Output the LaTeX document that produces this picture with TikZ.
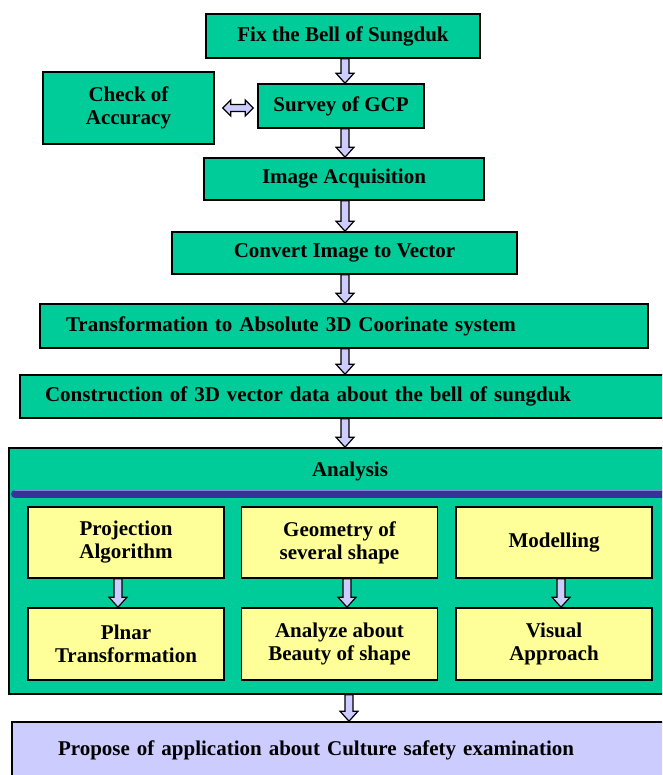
\documentclass[tikz,border=0pt]{standalone}
\usepackage{fontspec}
\setmainfont{Liberation Serif}
\usetikzlibrary{calc}
\definecolor{boxgreen}{HTML}{00CC99}
\definecolor{boxyellow}{HTML}{FFFF99}
\definecolor{lav}{HTML}{CCCCFF}
\definecolor{barblue}{HTML}{333399}
\definecolor{barlight}{HTML}{8484D8}
\tikzset{
  txt/.style={font=\fontsize{21}{23}\selectfont\bfseries},
  gbox/.style={txt, draw=black, line width=1.6pt, fill=boxgreen, inner sep=0pt, align=center},
  ybox/.style={txt, draw=black, line width=1.6pt, fill=boxyellow, inner sep=0pt, align=center, minimum width=196pt},
  blockarrow/.style={draw=black, line width=1.2pt, fill=lav, line join=miter},
}
\newcommand\vblk[3]{\draw[blockarrow] let \p1=(#2 -| #1), \p2=(#3 -| #1) in
  (\x1-4pt,\y1) -- (\x1-4pt,\y2+10pt) -- (\x1-9pt,\y2+10pt) -- (\x2,\y2) --
  (\x1+9pt,\y2+10pt) -- (\x1+4pt,\y2+10pt) -- (\x1+4pt,\y1) -- cycle;}
\newcommand\hdbl[2]{\draw[blockarrow] let \p1=(#1), \p2=(#2) in
  (\x1,\y1) -- (\x1+8pt,\y1+8pt) -- (\x1+8pt,\y1+3.5pt) -- (\x2-8pt,\y1+3.5pt) --
  (\x2-8pt,\y1+8pt) -- (\x2,\y1) -- (\x2-8pt,\y1-8pt) -- (\x2-8pt,\y1-3.5pt) --
  (\x1+8pt,\y1-3.5pt) -- (\x1+8pt,\y1-8pt) -- cycle;}
\begin{document}
\begin{tikzpicture}[x=1pt,y=-1pt]
\useasboundingbox (0,0) rectangle (662,775);
\clip (0,0) rectangle (662,775);
\fill[white] (0,0) rectangle (662,775);
% main column
\node[gbox, minimum width=274pt, minimum height=44pt] (fix) at (343,36) {Fix the Bell of Sungduk};
\node[gbox, minimum width=166pt, minimum height=44pt] (gcp) at (341,106) {Survey of GCP};
\node[gbox, minimum width=171pt, minimum height=72pt] (acc) at (128.5,108) {Check of\\Accuracy};
\node[gbox, minimum width=280pt, minimum height=42pt] (img) at (344,179) {Image Acquisition};
\node[gbox, minimum width=345pt, minimum height=42pt] (conv) at (344.5,253) {Convert Image to Vector};
\node[gbox, align=left, text width=556pt, inner xsep=26pt, minimum height=44pt] (trans) at (344,326) {Transformation to Absolute 3D Coorinate system};
\node[gbox, align=left, text width=600pt, inner xsep=25pt, minimum height=43pt] (cons) at (345,396.5) {Construction of 3D vector data about the bell of sungduk};
% analysis frame
\node[gbox, minimum width=661pt, minimum height=246pt] (ana) at (339.5,571) {};
\node[txt] (anat) at (350,471) {Analysis};
\draw[barblue, line width=8pt, line cap=round] (15,494) -- (680,494);
\draw[barlight, line width=1.6pt, line cap=round] (15,490.5) -- (680,490.5);
% yellow boxes
\node[ybox, minimum height=71pt] (p1) at (126,542.5) {Projection\\Algorithm};
\node[ybox, minimum height=71pt] (p2) at (339.5,542.5) {Geometry of\\several shape};
\node[ybox, minimum height=71pt] (p3) at (554,542.5) {Modelling};
\node[ybox, minimum height=72pt] (q1) at (126,644) {Plnar\\Transformation};
\node[ybox, minimum height=72pt] (q2) at (339.5,644) {Analyze about\\Beauty of shape};
\node[ybox, minimum height=72pt] (q3) at (554,644) {Visual\\Approach};
% bottom
\node[txt, draw=black, line width=1.6pt, fill=lav, align=left, text width=566pt, inner xsep=46pt, inner ysep=0pt, minimum height=56pt] (prop) at (341,750) {Propose of application about Culture safety examination};
% arrow axes
\coordinate (ax) at (345,0);
\coordinate (bx) at (349,0);
\coordinate (c1) at (118,0);
\coordinate (c2) at (347,0);
\coordinate (c3) at (561,0);
\coordinate (dl) at ($(acc.east)+(8pt,0)$);
\coordinate (dr) at ($(acc.east -| gcp.west)+(-4pt,0)$);
% arrows
\vblk{ax}{fix.south}{gcp.north}
\vblk{ax}{gcp.south}{img.north}
\vblk{ax}{img.south}{conv.north}
\vblk{ax}{conv.south}{trans.north}
\vblk{ax}{trans.south}{cons.north}
\vblk{ax}{cons.south}{ana.north}
\vblk{bx}{ana.south}{prop.north}
\vblk{c1}{p1.south}{q1.north}
\vblk{c2}{p2.south}{q2.north}
\vblk{c3}{p3.south}{q3.north}
\hdbl{dl}{dr}
\end{tikzpicture}
\end{document}
